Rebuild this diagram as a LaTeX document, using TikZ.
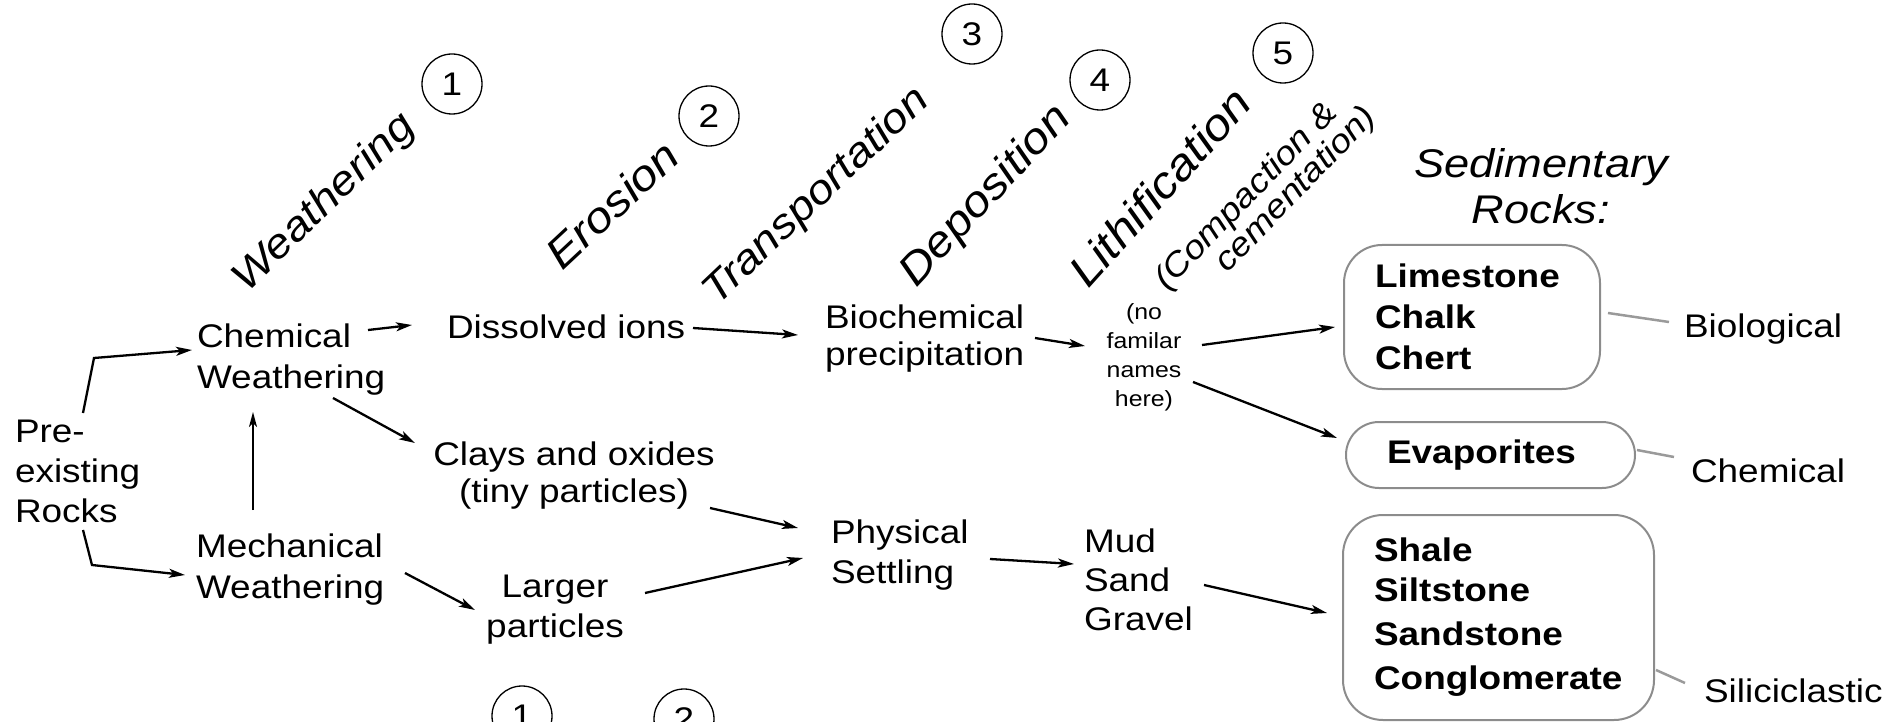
\documentclass[tikz,border=0pt]{standalone}
\usepackage{fontspec}
\setmainfont{Liberation Sans}[FakeStretch=1.13]
\usetikzlibrary{arrows.meta}
\newcommand\bodyf[1]{\fontsize{32.7}{#1}\selectfont}
\newcommand\hdrf[1]{\fontsize{#1}{48}\selectfont\itshape}
\definecolor{boxgray}{HTML}{8C8C8C}
\definecolor{linkgray}{HTML}{9A9A9A}
\begin{document}
\begin{tikzpicture}[x=1pt,y=-1pt,
  txt/.style={inner sep=0, outer sep=0, align=left, anchor=north west, font=\bodyf{41}},
  ctxt/.style={txt, align=center, anchor=north},
  hdr/.style={inner sep=0, outer sep=0, anchor=base west},
  num/.style={circle, draw, line width=1.3pt, minimum size=60pt, inner sep=0, outer sep=0, font=\bodyf{41}},
  rbox/.style={draw=boxgray, line width=2pt, anchor=north west, align=left, inner ysep=0, outer sep=0, font=\bodyf{41}\bfseries},
  lnk/.style={draw=linkgray, line width=2.5pt},
  arr/.style={line width=2.3pt, -{Stealth[length=16pt,width=9pt,inset=4pt]}},
  thinarr/.style={line width=1.8pt, -{Stealth[length=15pt,width=8pt,inset=4pt]}}]
\useasboundingbox (0,0) rectangle (1904,722);
\clip (0,0) rectangle (1904,722);

% process headers
\node[hdr, rotate=44, font=\hdrf{41}] (hw) at (247,293) {Weathering};
\node[hdr, rotate=43, font=\hdrf{43}] (he) at (562,272) {Erosion};
\node[hdr, rotate=43.5, font=\hdrf{41}] (ht) at (717,306) {Transportation};
\node[hdr, rotate=47, font=\hdrf{43}] (hd) at (916,288) {Deposition};
\node[hdr, rotate=48, font=\hdrf{44}] (hl) at (1088,290) {Lithification};
\node[rotate=46, inner sep=0, outer sep=0, anchor=north west, align=left, font=\fontsize{33}{31}\selectfont\itshape] (hc) at (1150,275) {(Compaction \&\\\hspace*{55pt}cementation)};
\node[ctxt, font=\fontsize{40}{46}\selectfont\itshape] (sr) at (1541,149) {Sedimentary\\Rocks:};

% step numbers
\node[num] (c1) at (452,84) {1};
\node[num] (c2) at (709,116) {2};
\node[num] (c3) at (972,34) {3};
\node[num] (c4) at (1100,80) {4};
\node[num] (c5) at (1283,53) {5};
\node[num] (c6) at (522,716) {1};
\node[num] (c7) at (684,719) {2};

% flow nodes
\node[txt, font=\bodyf{40}] (pre) at (15,420) {Pre-\\existing\\Rocks};
\node[txt] (chem) at (197,324) {Chemical\\Weathering};
\node[txt] (mech) at (196,534) {Mechanical\\Weathering};
\node[txt] (diss) at (447,315) {Dissolved ions};
\node[ctxt, font=\bodyf{37}] (clays) at (574,442) {Clays and oxides\\(tiny particles)};
\node[ctxt, font=\bodyf{40}] (larger) at (555,575) {Larger\\particles};
\node[txt, font=\bodyf{37}] (bio) at (825,305) {Biochemical\\precipitation};
\node[txt, font=\bodyf{40}] (phys) at (831,520) {Physical\\Settling};
\node[txt, font=\bodyf{39}] (mud) at (1084,529) {Mud\\Sand\\Gravel};
\node[ctxt, font=\fontsize{22}{29}\selectfont] (nofam) at (1144,304) {(no\\familar\\names\\here)};

% rock boxes
\node[rbox, rounded corners=38pt, inner xsep=31pt, text width=194pt, minimum height=144pt] (lime) at (1344,245) {Limestone\\Chalk\\Chert};
\node[rbox, rounded corners=33pt, inner xsep=41pt, text width=207pt, minimum height=66pt] (evap) at (1346,422) {Evaporites};
\node[rbox, rounded corners=40pt, inner xsep=31pt, text width=249pt, minimum height=205pt, font=\bodyf{40}\bfseries] (silic) at (1343,515) {Shale\\Siltstone\\[4pt]Sandstone\\[4pt]Conglomerate};

% categories
\node[txt] (biol) at (1684,313.5) {Biological};
\node[txt] (chemc) at (1691,458.5) {Chemical};
\node[txt] (sili) at (1704,678.5) {Siliciclastic};

% connectors
\draw[arr] ([shift={(68,-7)}]pre.north west) -- ([shift={(-103,34)}]chem.north west) -- ([shift={(-5,26)}]chem.north west);
\draw[arr] ([shift={(68,110)}]pre.north west) -- ([shift={(-104,31)}]mech.north west) -- ([shift={(-11,41)}]mech.north west);
\draw[thinarr] ([shift={(57,-24)}]mech.north west) -- ([shift={(56,88)}]chem.north west);
\draw[arr] ([shift={(171,6)}]chem.north west) -- ([shift={(-35,10)}]diss.north west);
\draw[arr] ([shift={(136,74)}]chem.north west) -- ([shift={(-159,1)}]clays.north);
\draw[arr] ([shift={(209,39)}]mech.north west) -- ([shift={(-80,35)}]larger.north);
\draw[arr] ([shift={(246,13)}]diss.north west) -- ([shift={(-27,30)}]bio.north west);
\draw[arr] ([shift={(136,66)}]clays.north) -- ([shift={(-33,8)}]phys.north west);
\draw[arr] ([shift={(90,18)}]larger.north) -- ([shift={(-28,38)}]phys.north west);
\draw[arr] ([shift={(210,33)}]bio.north west) -- ([shift={(-59,42)}]nofam.north);
\draw[arr] ([shift={(159,39)}]phys.north west) -- ([shift={(-10,35)}]mud.north west);
\draw[arr] ([shift={(58,41)}]nofam.north) -- ([shift={(-9,82)}]lime.north west);
\draw[arr] ([shift={(49,78)}]nofam.north) -- ([shift={(-9,16)}]evap.north west);
\draw[arr] ([shift={(120,56)}]mud.north west) -- ([shift={(-16,98)}]silic.north west);

\draw[lnk] ([shift={(264,68)}]lime.north west) -- ([shift={(-15,8.5)}]biol.north west);
\draw[lnk] ([shift={(291,28)}]evap.north west) -- ([shift={(-17,-1.5)}]chemc.north west);
\draw[lnk] ([shift={(313,155)}]silic.north west) -- ([shift={(-19,4.5)}]sili.north west);
\end{tikzpicture}
\end{document}
